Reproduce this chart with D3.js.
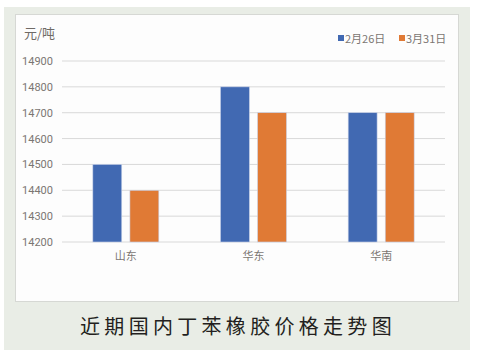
<!DOCTYPE html>
<html>
<head>
<meta charset="utf-8">
<script src="https://cdn.jsdelivr.net/npm/d3@7"></script>
<style>
  body { margin: 0; background: #ffffff; }
  text { font-family: "Noto Sans CJK SC", "Noto Sans", sans-serif; }
</style>
</head>
<body>
<div id="chart"></div>
<script>
var regions = ["山东", "华东", "华南"];
var seriesNames = ["2月26日", "3月31日"];
var feb26 = [14500, 14800, 14700];
var mar31 = [14400, 14700, 14700];
var yTicks = [14200, 14300, 14400, 14500, 14600, 14700, 14800, 14900];
var colors = ["#4169b2", "#e07a35"];

var svgWidth = 481;
var svgHeight = 359;

var svg = d3.select("#chart")
  .append("svg")
  .attr("width", svgWidth)
  .attr("height", svgHeight);

// outer frame and inner panel
svg.append("rect")
  .attr("x", 4).attr("y", 7)
  .attr("width", 466).attr("height", 343)
  .attr("fill", "#e9ede6");

svg.append("rect")
  .attr("x", 15.5).attr("y", 14.5)
  .attr("width", 443).attr("height", 287)
  .attr("fill", "#fdfdfd")
  .attr("stroke", "#d6d8d4");

var margin = { left: 62, right: 36, top: 61, bottom: 117 };
var width = svgWidth - margin.left - margin.right;
var height = svgHeight - margin.top - margin.bottom;

var chartGroup = svg.append("g")
  .attr("transform", `translate(${margin.left}, ${margin.top})`);

var x0 = d3.scaleBand()
  .domain(regions)
  .range([0, width]);

var x1 = d3.scaleBand()
  .domain(seriesNames)
  .range([x0.bandwidth() / 2 - 33, x0.bandwidth() / 2 + 33])
  .paddingInner(0.22);

var y = d3.scaleLinear()
  .domain([14200, 14900])
  .range([height, 0]);

// gridlines
chartGroup.selectAll(".grid")
  .data(yTicks)
  .enter()
  .append("line")
  .attr("x1", 0)
  .attr("x2", width)
  .attr("y1", d => y(d))
  .attr("y2", d => y(d))
  .attr("stroke", "#d9d9d9")
  .attr("stroke-width", 1);

// y axis labels
var leftAxis = d3.axisLeft(y).tickValues(yTicks).tickFormat(d3.format("d")).tickSize(0).tickPadding(9);
var yAxis = chartGroup.append("g").call(leftAxis);
yAxis.select(".domain").remove();
yAxis.selectAll("text")
  .attr("fill", "#7b7672")
  .style("font-size", "11px")
  .style("font-family", "Roboto, 'Noto Sans', sans-serif");

// x axis labels
var bottomAxis = d3.axisBottom(x0).tickSize(0).tickPadding(10);
var xAxis = chartGroup.append("g")
  .attr("transform", `translate(0, ${height})`)
  .call(bottomAxis);
xAxis.select(".domain").remove();
xAxis.selectAll("text")
  .attr("fill", "#7b7672")
  .style("font-size", "11px");

// bars
var rows = regions.map((r, i) => ({ region: r, values: [feb26[i], mar31[i]] }));

var groups = chartGroup.selectAll(".cat")
  .data(rows)
  .enter()
  .append("g")
  .attr("transform", d => `translate(${x0(d.region)}, 0)`);

groups.selectAll("rect")
  .data(d => d.values.map((v, j) => ({ name: seriesNames[j], value: v, idx: j })))
  .enter()
  .append("rect")
  .attr("x", d => x1(d.name))
  .attr("y", d => y(d.value))
  .attr("width", x1.bandwidth())
  .attr("height", d => height - y(d.value))
  .attr("fill", d => colors[d.idx])
  .attr("stroke", "#c9d3ea")
  .attr("stroke-width", 0.6);

// unit label
svg.append("text")
  .attr("x", 24)
  .attr("y", 38)
  .attr("fill", "#6f6a66")
  .style("font-size", "13px")
  .text("元/吨");

// legend
var legendX = [338, 399];
var legend = svg.selectAll(".legend")
  .data(seriesNames)
  .enter()
  .append("g")
  .attr("transform", (d, i) => `translate(${legendX[i]}, 39)`);

legend.append("rect")
  .attr("x", 0).attr("y", -4)
  .attr("width", 6).attr("height", 6)
  .attr("fill", (d, i) => colors[i]);

legend.append("text")
  .attr("x", 7)
  .attr("y", 4)
  .attr("fill", "#7b7672")
  .style("font-size", "11px")
  .text(d => d);

// title
svg.append("text")
  .attr("x", 238)
  .attr("y", 334)
  .attr("text-anchor", "middle")
  .attr("fill", "#231f20")
  .style("font-size", "20px")
  .style("letter-spacing", "4.3px")
  .text("近期国内丁苯橡胶价格走势图");
</script>
</body>
</html>
